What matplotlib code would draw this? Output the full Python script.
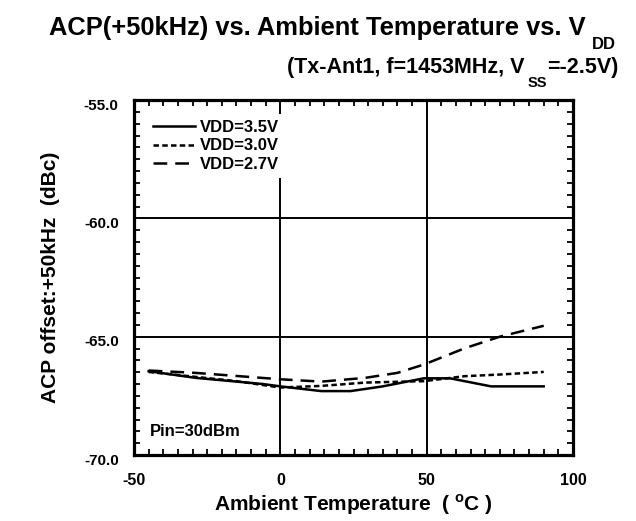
import matplotlib
matplotlib.use("Agg")
import matplotlib.pyplot as plt
from matplotlib.ticker import MultipleLocator
from matplotlib.transforms import ScaledTranslation

plt.rcParams['font.family'] = ['Liberation Sans', 'DejaVu Sans']
plt.rcParams['font.weight'] = 'bold'
plt.rcParams['mathtext.fontset'] = 'custom'
plt.rcParams['mathtext.rm'] = 'Liberation Sans:bold'
plt.rcParams['mathtext.bf'] = 'Liberation Sans:bold'

# Data
temp_35 = [-45, -29, -6, 0, 14, 24, 35, 49, 58, 72, 90]
acp_35 = [-66.46, -66.74, -67.0, -67.1, -67.3, -67.3, -67.1, -66.76, -66.76, -67.1, -67.1]
temp_30 = [-45, -15, 0, 14, 29, 49, 63, 75, 90]
acp_30 = [-66.49, -66.88, -67.15, -67.08, -66.94, -66.88, -66.67, -66.6, -66.49]
temp_27 = [-45, -29, 0, 14, 29, 40, 49, 63, 75, 90]
acp_27 = [-66.43, -66.53, -66.8, -66.9, -66.74, -66.53, -66.18, -65.49, -65.0, -64.54]
labels = ['VDD=3.5V', 'VDD=3.0V', 'VDD=2.7V']
x_ticks = [-50, 0, 50, 100]
y_ticks = [-70.0, -65.0, -60.0, -55.0]

W, H = 636, 521
fig = plt.figure(figsize=(W / 100, H / 100), dpi=100)
ax = fig.add_axes([134 / W, 1 - 455 / H, (573 - 134) / W, (455 - 100) / H])

lw = 1.8
ax.plot(temp_35, acp_35, color='black', lw=lw, ls='-', label=labels[0])
ax.plot(temp_30, acp_30, color='black', lw=lw, ls=(0, (2.2, 1.3)), label=labels[1])
ax.plot(temp_27, acp_27, color='black', lw=lw, ls=(0, (5.5, 3.2)), label=labels[2])

ax.set_xlim(-50, 100)
ax.set_ylim(-70, -55)
ax.set_xticks(x_ticks)
ax.set_yticks(y_ticks)
ax.set_xticklabels([str(v) for v in x_ticks], fontsize=11.5, fontweight='bold')
ax.set_yticklabels(['%.1f' % v for v in y_ticks], fontsize=11, fontweight='bold')
ax.xaxis.set_minor_locator(MultipleLocator(5))
ax.yaxis.set_minor_locator(MultipleLocator(0.5))
ax.tick_params(which='both', direction='in', top=True, right=True, width=1.3)
ax.tick_params(axis='x', which='major', length=0, pad=13)
ax.tick_params(axis='y', which='major', length=0, pad=11)
ax.tick_params(which='minor', length=4.5)
ax.grid(True, which='major', color='black', lw=1.4)
for s in ax.spines.values():
    s.set_linewidth(2.3)
for lab in ax.get_yticklabels():
    lab.set_transform(lab.get_transform() + ScaledTranslation(0, -3 / 72, fig.dpi_scale_trans))

ax.set_xlabel(r'Ambient Temperature  ( $^{\mathbf{o}}$C )', fontsize=15, fontweight='bold', labelpad=3)
ax.set_ylabel('ACP offset:+50kHz  (dBc)', fontsize=15, fontweight='bold', labelpad=17)

leg = ax.legend(loc='upper left', bbox_to_anchor=(0.03, 0.96), frameon=True, fancybox=False,
                edgecolor='none', facecolor='white', framealpha=1, fontsize=12,
                handlelength=2.5, handletextpad=0.3, labelspacing=0.2, borderpad=0.35,
                borderaxespad=0)
for t in leg.get_texts():
    t.set_fontweight('bold')

ax.text(150 / W, 1 - 432 / H, 'Pin=30dBm', transform=fig.transFigure, fontsize=12,
        fontweight='bold', va='center', ha='left')

# Titles laid out piecewise (main text + lowered subscript)
fig.canvas.draw()
renderer = fig.canvas.get_renderer()


def chain(pieces, right_px):
    # pieces: (text, fontsize, baseline_px_from_top, gap_before_px)
    objs = []
    widths = []
    for txt, fs, base, gap in pieces:
        t = fig.text(0, 1 - base / H, txt, ha='left', va='baseline', fontsize=fs, fontweight='bold')
        objs.append(t)
        widths.append(t.get_window_extent(renderer).width)
    total = sum(widths) + sum(p[3] for p in pieces)
    x = right_px - total
    for t, w, p in zip(objs, widths, pieces):
        x += p[3]
        t.set_x(x / W)
        x += w


chain([('ACP(+50kHz) vs. Ambient Temperature vs. V', 18.4, 35, 0),
       ('DD', 12, 49, 6)], 616)
chain([('(Tx-Ant1, f=1453MHz, V', 15.5, 73, 0),
       ('SS', 10.5, 87, 3),
       ('=-2.5V)', 15.5, 73, 0)], 618)

fig.savefig('out.png', dpi=100)
